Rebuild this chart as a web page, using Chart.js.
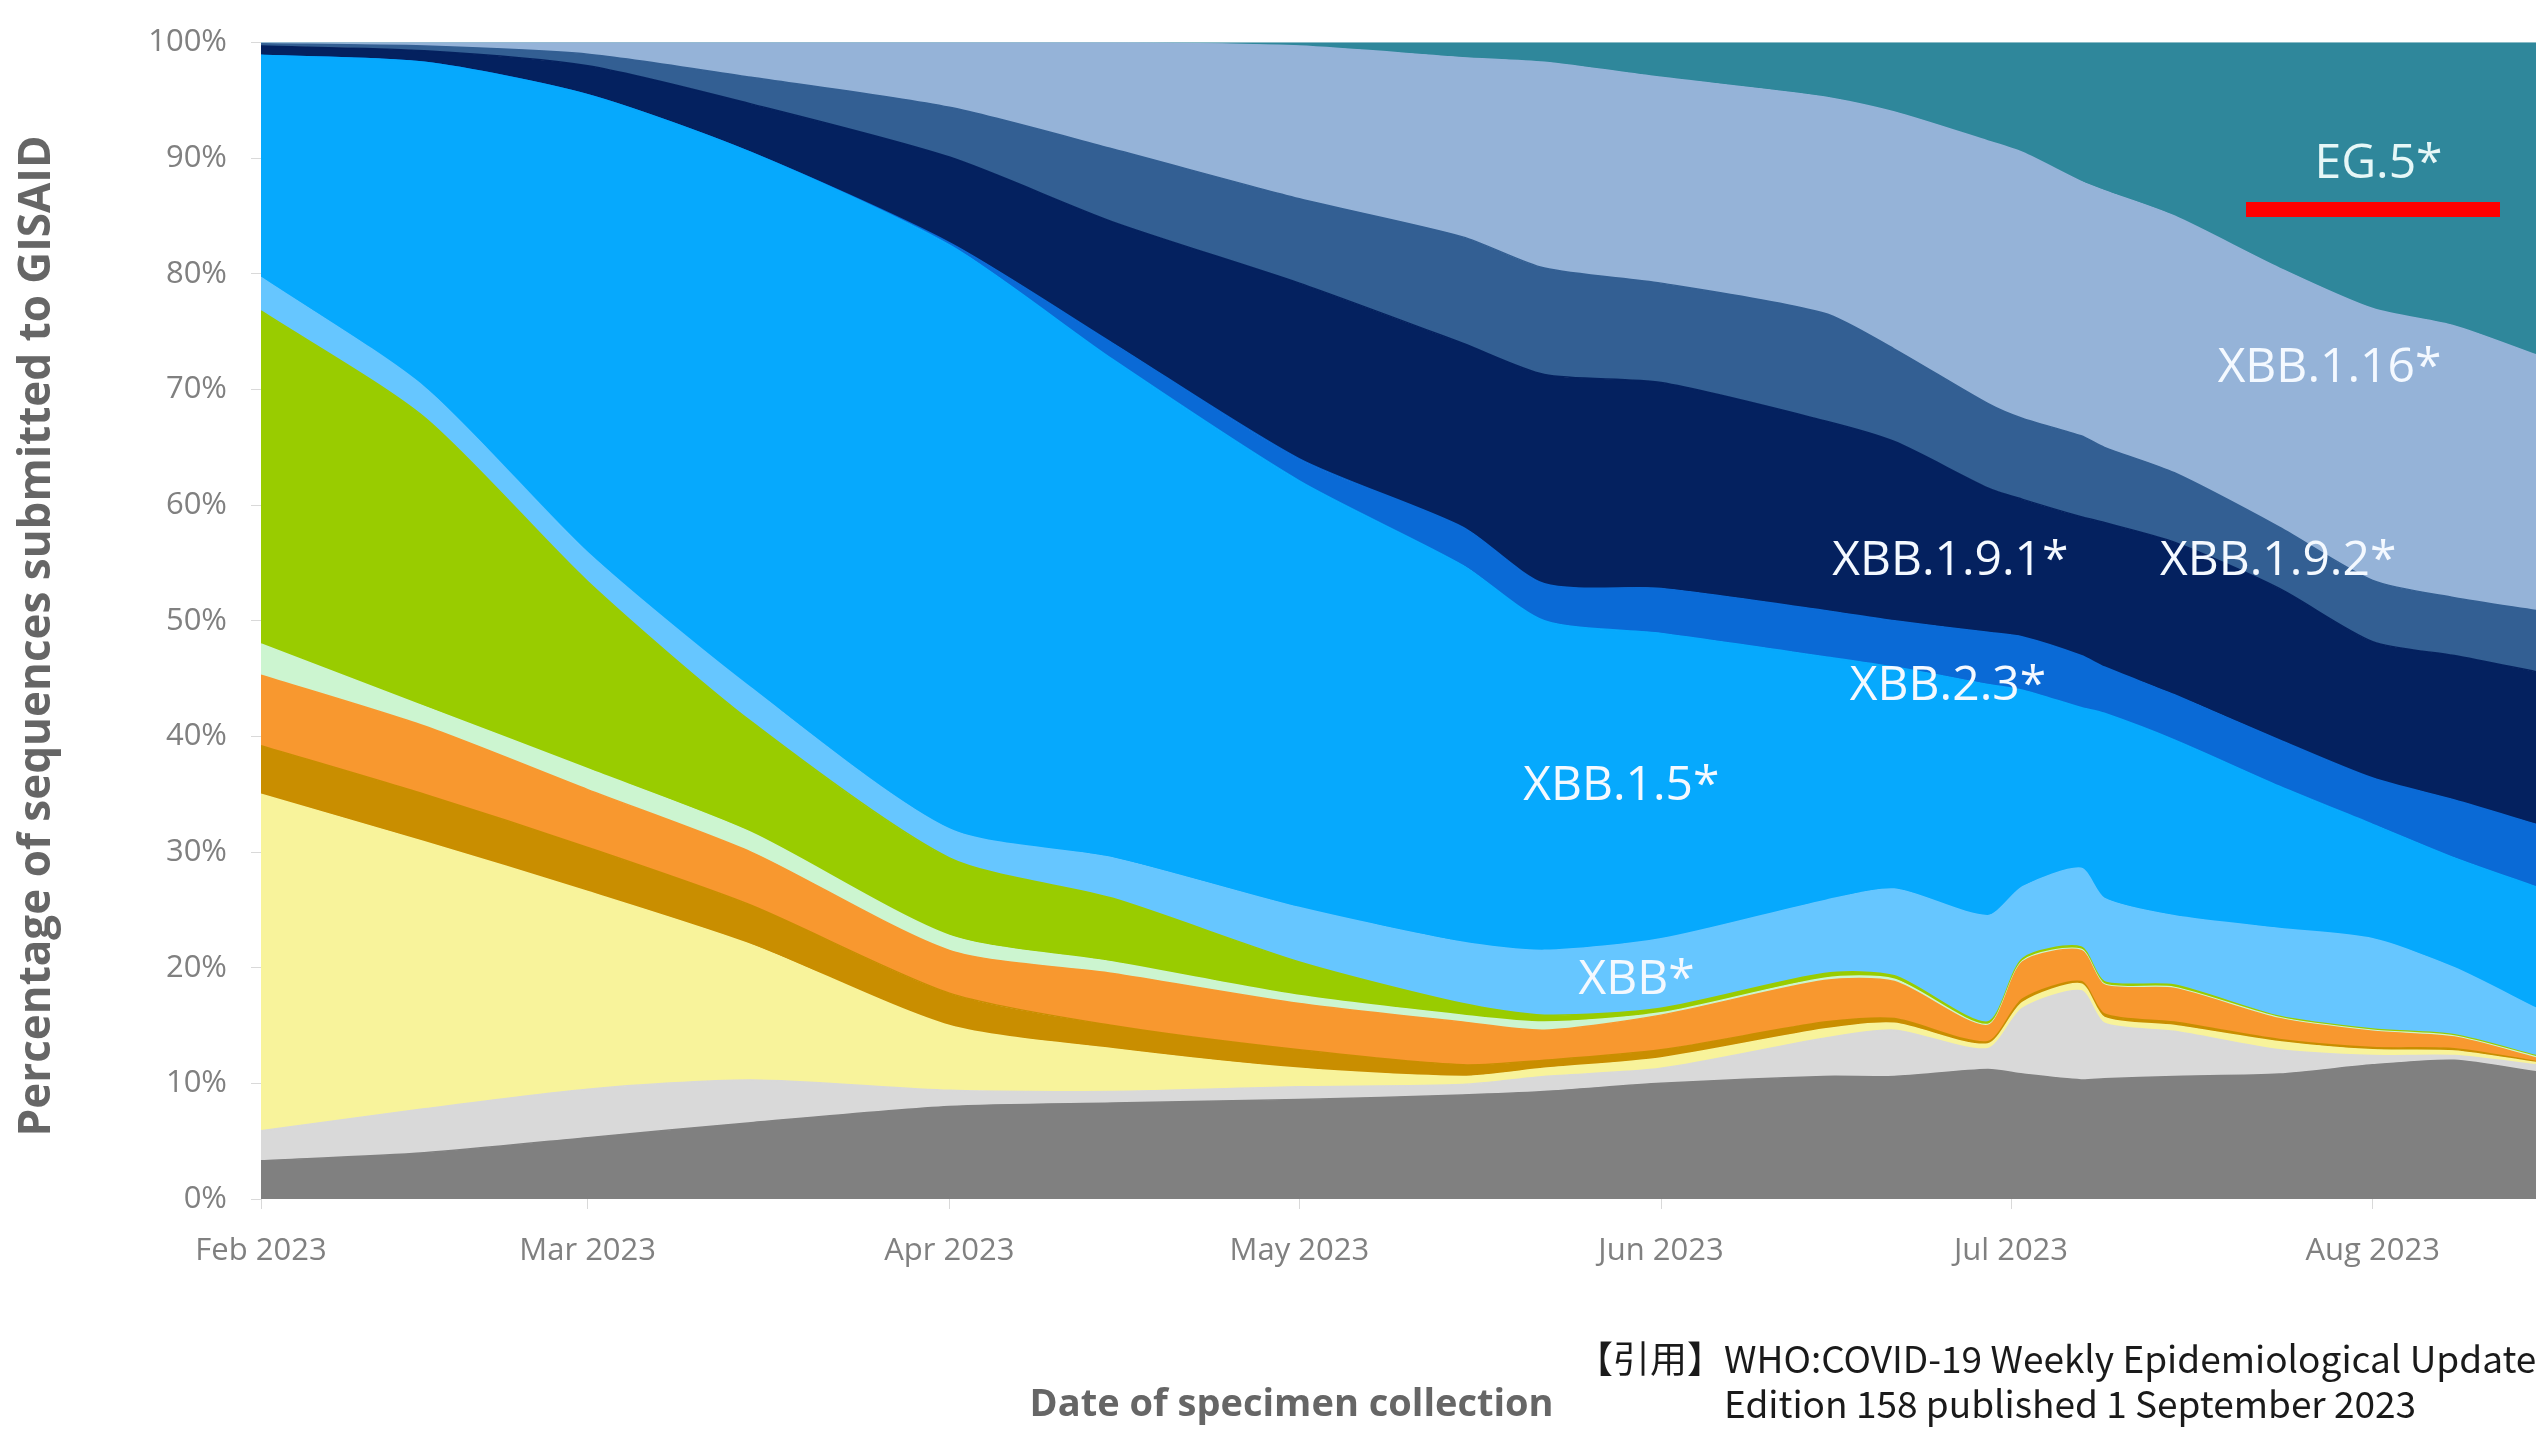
<!DOCTYPE html>
<html>
<head>
<meta charset="utf-8">
<script src="https://cdn.jsdelivr.net/npm/chart.js@4.4.1/dist/chart.umd.min.js"></script>
<style>
  html, body { margin: 0; padding: 0; background: #fff; overflow: hidden; }
  #wrap { position: relative; width: 2539px; height: 1432px; }
  .redline { position: absolute; left: 2246px; top: 202px; width: 254px; height: 15px; background: #ff0000; }
  .cite { position: absolute; left: 1576px; top: 1335px; font-family: "Noto Sans CJK JP"; font-size: 37px; line-height: 45px; color: #1a1a1a; white-space: nowrap; }
  .cite .l2 { margin-left: 148px; }
</style>
</head>
<body>
<div id="wrap">
  <canvas id="myChart"></canvas>
  <div class="redline"></div>
  <div class="cite">【引用】WHO:COVID-19 Weekly Epidemiological Update<div class="l2">Edition 158 published 1 September 2023</div></div>
</div>
<script>
// days since 1 Feb 2023
const days = [0, 14, 28, 42, 59, 73, 89, 103, 110, 120, 134, 140, 148, 151, 156, 158, 164, 173, 181, 188, 195];

const monthDays = [0, 28, 59, 89, 120, 150, 181];
const monthLabels = ['Feb 2023', 'Mar 2023', 'Apr 2023', 'May 2023', 'Jun 2023', 'Jul 2023', 'Aug 2023'];

// share of sequences (%), bottom layer first
const others     = [3.3, 4.0, 5.3, 6.6, 8.0, 8.3, 8.6, 9.0, 9.3, 10.0, 10.6, 10.6, 11.2, 10.8, 10.3, 10.4, 10.6, 10.8, 11.6, 12.0, 11.0];
const unassigned = [2.6, 3.8, 4.2, 3.7, 1.4, 1.0, 1.1, 0.9, 1.3, 1.3, 3.3, 4.0, 1.8, 5.7, 7.7, 4.8, 3.9, 2.1, 0.8, 0.4, 0.6];
const bq1        = [29.1, 23.1, 17.1, 11.7, 5.6, 3.7, 1.6, 0.7, 0.7, 0.9, 0.8, 0.6, 0.4, 0.5, 0.6, 0.5, 0.5, 0.7, 0.5, 0.4, 0.2];
const ba275      = [4.2, 4.1, 3.8, 3.4, 2.8, 2.0, 1.6, 1.0, 0.7, 0.7, 0.6, 0.4, 0.2, 0.3, 0.2, 0.3, 0.3, 0.2, 0.2, 0.2, 0.1];
const ch11       = [6.1, 5.9, 5.0, 4.6, 3.7, 4.5, 4.0, 3.7, 2.6, 3.0, 3.6, 3.2, 1.4, 3.2, 2.7, 2.5, 2.9, 1.8, 1.4, 1.0, 0.3];
const ba5        = [2.7, 1.7, 1.8, 1.7, 1.3, 1.0, 0.7, 0.6, 0.7, 0.2, 0.2, 0.2, 0.1, 0.1, 0.1, 0.1, 0.1, 0.1, 0.1, 0.1, 0.1];
const bq11       = [28.8, 25.0, 16.2, 9.6, 6.7, 5.5, 2.9, 1.0, 0.6, 0.4, 0.4, 0.3, 0.2, 0.2, 0.2, 0.2, 0.2, 0.1, 0.1, 0.1, 0.1];
const xbb        = [2.9, 2.6, 2.5, 2.9, 2.5, 3.5, 4.7, 5.3, 5.6, 6.0, 6.3, 7.5, 9.2, 6.2, 6.8, 7.2, 6.0, 7.6, 7.8, 5.8, 4.1];
const xbb15      = [19.2, 28.1, 39.6, 46.3, 50.5, 43.1, 36.9, 32.6, 28.5, 26.4, 21.1, 19.2, 20.0, 17.0, 13.9, 16.0, 15.2, 12.3, 9.9, 9.5, 10.5];
const xbb23      = [0, 0, 0, 0, 0.2, 1.4, 1.9, 3.3, 3.2, 3.9, 4.0, 4.0, 4.5, 4.6, 4.5, 4.0, 3.9, 4.0, 4.0, 5.0, 5.4];
const xbb191     = [0.8, 1.0, 2.5, 4.2, 7.4, 10.5, 15.2, 15.9, 18.1, 17.8, 16.4, 15.5, 12.5, 11.9, 12.0, 12.5, 13.2, 13.1, 11.8, 12.5, 13.2];
const xbb192     = [0.2, 0.4, 1.0, 2.3, 4.3, 6.3, 7.3, 9.2, 9.2, 8.6, 9.3, 8.0, 7.3, 7.0, 7.0, 6.5, 6.0, 5.3, 5.3, 5.0, 5.3];
const xbb116     = [0.1, 0.3, 1.0, 3.0, 5.6, 9.2, 13.2, 15.5, 17.8, 17.8, 18.7, 20.5, 22.7, 23.0, 22.0, 22.2, 22.2, 22.4, 23.5, 23.5, 22.1];
const eg5        = [0, 0, 0, 0, 0, 0, 0.3, 1.3, 1.7, 3.0, 4.7, 6.0, 8.5, 9.5, 12.0, 12.8, 15.0, 19.5, 23.0, 24.5, 27.0];

const seriesNames = ['Others', 'Unassigned', 'BQ.1*', 'BA.2.75*', 'CH.1.1*', 'BA.5*', 'BQ.1.1*', 'XBB*', 'XBB.1.5*', 'XBB.2.3*', 'XBB.1.9.1*', 'XBB.1.9.2*', 'XBB.1.16*', 'EG.5*'];
const seriesValues = [others, unassigned, bq1, ba275, ch11, ba5, bq11, xbb, xbb15, xbb23, xbb191, xbb192, xbb116, eg5];
const seriesColors = ['#808080', '#d9d9d9', '#f8f39b', '#c98e00', '#f8982f', '#ccf5d0', '#99cc00', '#66c6ff', '#06a9fd', '#0a6ad6', '#04215f', '#335f93', '#95b3d8', '#2f879b'];

// in-chart labels (day, percent)
const labelNames = ['EG.5*', 'XBB.1.16*', 'XBB.1.9.1*', 'XBB.1.9.2*', 'XBB.2.3*', 'XBB.1.5*', 'XBB*'];
const labelDays = [181.5, 177.3, 144.8, 172.9, 144.6, 116.6, 117.9];
const labelPcts = [89.5, 71.8, 55.1, 55.1, 44.3, 35.7, 18.9];

const xTitle = 'Date of specimen collection';
const yTitle = 'Percentage of sequences submitted to GISAID';

const datasets = seriesNames.map((name, i) => ({
  label: name,
  data: days.map((d, j) => ({ x: d, y: seriesValues[i][j] })),
  backgroundColor: seriesColors[i],
  borderColor: seriesColors[i],
  borderWidth: 1.5,
  pointRadius: 0,
  tension: 0.25,
  fill: i === 0 ? 'origin' : '-1'
}));

// variant names on the areas + axis titles (both sit off-centre in the original)
const areaLabels = {
  id: 'areaLabels',
  afterDatasetsDraw(chart) {
    const c = chart.ctx;
    const xs = chart.scales.x, ys = chart.scales.y;
    c.save();
    c.font = '48px "Open Sans"';
    c.textAlign = 'center';
    c.textBaseline = 'middle';
    labelNames.forEach((t, i) => {
      c.fillStyle = i === 0 ? '#e6f7f7' : '#f4f9ff';
      c.fillText(t, xs.getPixelForValue(labelDays[i]), ys.getPixelForValue(labelPcts[i]));
    });
    const ca = chart.chartArea;
    c.fillStyle = '#666666';
    c.font = 'bold 38px "Open Sans"';
    c.fillText(xTitle, ca.left + (ca.right - ca.left) * 0.453, 1405);
    c.font = 'bold 44px "Open Sans"';
    c.translate(37, 636);
    c.rotate(-Math.PI / 2);
    c.fillText(yTitle, 0, 0);
    c.restore();
  }
};

const ctx = document.getElementById('myChart');

const chart = new Chart(ctx, {
  type: 'line',
  data: { datasets: datasets },
  plugins: [areaLabels],
  options: {
    responsive: true,
    maintainAspectRatio: false,
    animation: false,
    layout: { padding: { top: 39, right: 3, left: 0, bottom: 0 } },
    plugins: {
      legend: { display: false },
      tooltip: { enabled: false }
    },
    scales: {
      x: {
        type: 'linear',
        min: 0,
        max: 195,
        afterBuildTicks: (s) => { s.ticks = monthDays.map(v => ({ value: v })); },
        afterFit: (s) => { s.height = 233; },
        ticks: {
          autoSkip: false,
          maxRotation: 0,
          padding: 24,
          color: '#808080',
          font: { family: 'Open Sans', size: 31 },
          callback: (v) => monthLabels[monthDays.indexOf(v)]
        },
        grid: { drawOnChartArea: false, tickLength: 10, color: '#d9d9d9' },
        border: { display: false }
      },
      y: {
        stacked: true,
        min: 0,
        max: 100,
        afterFit: (s) => { s.width = 261; },
        ticks: {
          stepSize: 10,
          padding: 24,
          color: '#808080',
          font: { family: 'Open Sans', size: 31 },
          callback: (v) => v + '%'
        },
        grid: { drawOnChartArea: false, tickLength: 10, color: '#d9d9d9' },
        border: { display: false }
      }
    }
  }
});
</script>
</body>
</html>
